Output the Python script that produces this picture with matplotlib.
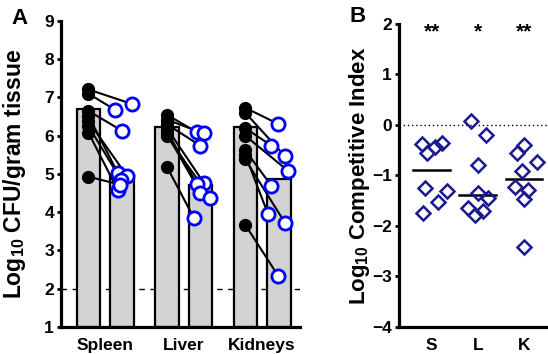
import numpy as np
import matplotlib
matplotlib.use("Agg")
import matplotlib.pyplot as plt

plt.rcParams['font.family'] = ['Liberation Sans', 'DejaVu Sans']
plt.rcParams['font.weight'] = 'bold'
plt.rcParams['mathtext.fontset'] = 'custom'
plt.rcParams['mathtext.rm'] = 'Liberation Sans:bold'
plt.rcParams['mathtext.it'] = 'Liberation Sans:bold'
plt.rcParams['mathtext.bf'] = 'Liberation Sans:bold'

# ---------------- Data ----------------
organs = ["Spleen", "Liver", "Kidneys"]
bar_wt = [6.70, 6.22, 6.22]        # black (WT) bar heights
bar_mut = [4.97, 4.72, 4.88]       # blue (mutant) bar heights

spleen_wt = [7.21, 7.10, 6.65, 6.52, 6.38, 6.25, 6.08, 4.93]
spleen_mut = [6.83, 6.68, 6.13, 5.02, 4.95, 4.85, 4.57, 4.72]
liver_wt = [6.55, 6.42, 6.30, 6.20, 6.12, 6.05, 5.99, 5.19]
liver_mut = [6.09, 6.06, 5.74, 4.77, 4.73, 4.51, 4.38, 3.86]
kidney_wt = [6.73, 6.60, 6.20, 6.00, 5.62, 5.50, 5.38, 3.67]
kidney_mut = [6.31, 5.47, 5.74, 5.08, 4.69, 3.95, 3.73, 2.34]
wt_vals = [spleen_wt, liver_wt, kidney_wt]
mut_vals = [spleen_mut, liver_mut, kidney_mut]

ci_labels = ["S", "L", "K"]
ci_spleen = [-0.38, -0.55, -0.43, -0.36, -1.24, -1.31, -1.52, -1.75]
ci_liver = [0.07, -0.20, -0.79, -1.34, -1.44, -1.65, -1.70, -1.78]
ci_kidney = [-0.40, -0.56, -0.74, -0.92, -1.22, -1.28, -1.47, -2.42]
ci_vals = [ci_spleen, ci_liver, ci_kidney]
ci_stars = ["**", "*", "**"]
detect_limit = 2

# horizontal scatter offsets (layout only)
mut_jit = [[0.30, -0.21, 0.0, -0.12, 0.15, -0.03, -0.12, -0.05],
           [-0.10, 0.10, 0.0, 0.10, -0.10, 0.0, 0.30, -0.20],
           [-0.02, 0.18, -0.22, 0.28, -0.22, -0.32, 0.18, -0.02]]
ci_jit = [[-0.22, -0.11, 0.07, 0.22, -0.15, 0.33, 0.14, -0.18],
          [-0.14, 0.18, 0.0, 0.0, 0.22, -0.22, 0.11, -0.07],
          [-0.01, -0.16, 0.28, -0.05, -0.20, 0.09, -0.01, -0.01]]

fig = plt.figure(figsize=(5.48, 3.54), dpi=100)

# ---------------- Panel A ----------------
axA = fig.add_axes([0.1113, 0.0763, 0.436, 0.8644])
group_x = np.array([0.0, 2.34, 4.68])
bw = 0.70
axA.axhline(detect_limit, color='black', lw=1.0, ls=(0, (4, 4)), zorder=1)
axA.bar(group_x, np.array(bar_wt) - 1, bottom=1, width=bw, color='#d3d3d3',
        edgecolor='black', linewidth=1.6, zorder=2)
axA.bar(group_x + 1, np.array(bar_mut) - 1, bottom=1, width=bw, color='#d3d3d3',
        edgecolor='black', linewidth=1.6, zorder=2)
for g in range(3):
    xw = np.full(len(wt_vals[g]), group_x[g])
    xm = group_x[g] + 1 + np.array(mut_jit[g])
    for i in range(len(wt_vals[g])):
        axA.plot([xw[i], xm[i]], [wt_vals[g][i], mut_vals[g][i]], color='black',
                 lw=1.5, zorder=3)
    axA.plot(xw, wt_vals[g], 'o', ms=8.5, mfc='black', mec='black', zorder=4)
    axA.plot(xm, mut_vals[g], 'o', ms=9.5, mfc='white', mec='#0000ff', mew=2.0, zorder=5)

axA.set_xlim(-0.82, 6.31)
axA.set_ylim(1, 9)
axA.set_yticks(range(1, 10))
axA.set_xticks(group_x + 0.5)
axA.set_xticklabels(organs, fontsize=12.5, fontweight='bold')
axA.tick_params(axis='x', length=0, pad=8)
axA.tick_params(axis='y', length=3, width=2, labelsize=12.5, pad=2)
for s in ['top', 'right']:
    axA.spines[s].set_visible(False)
for s in ['left', 'bottom']:
    axA.spines[s].set_linewidth(2.3)
axA.set_ylabel("Log$_{\\mathrm{10}}$ CFU/gram tissue", fontsize=16.5, fontweight='bold')
axA.yaxis.set_label_coords(-0.14, 0.5)

# ---------------- Panel B ----------------
axB = fig.add_axes([0.728, 0.0763, 0.272, 0.856])
axB.axhline(0, color='black', lw=1.0, ls=(0, (1, 2)), zorder=1)
for g in range(3):
    xs = g + np.array(ci_jit[g])
    axB.plot(xs, ci_vals[g], 'D', ms=7.5, mfc='none', mec='#1a1a90', mew=1.8, zorder=3)
    med = np.median(ci_vals[g])
    axB.plot([g - 0.4, g + 0.4], [med, med], color='black', lw=1.8, zorder=2)
    axB.text(g, 1.84, ci_stars[g], ha='center', va='center', fontsize=15, fontweight='bold')
axB.set_xlim(-0.71, 2.52)
axB.set_ylim(-4, 2)
axB.set_yticks(range(-4, 3))
axB.set_xticks(range(3))
axB.set_xticklabels(ci_labels, fontsize=12.5, fontweight='bold')
axB.tick_params(axis='x', length=0, pad=8)
axB.tick_params(axis='y', length=3, width=2, labelsize=12.5, pad=2)
for s in ['top', 'right']:
    axB.spines[s].set_visible(False)
for s in ['left', 'bottom']:
    axB.spines[s].set_linewidth(2.3)
axB.set_ylabel("Log$_{\\mathrm{10}}$ Competitive Index", fontsize=16, fontweight='bold')
axB.yaxis.set_label_coords(-0.18, 0.5)

fig.text(20 / 548, 1 - 19 / 354, "A", fontsize=16, fontweight='bold', ha='center', va='center')
fig.text(358 / 548, 1 - 17 / 354, "B", fontsize=16, fontweight='bold', ha='center', va='center')

fig.savefig("out.png", dpi=100)
